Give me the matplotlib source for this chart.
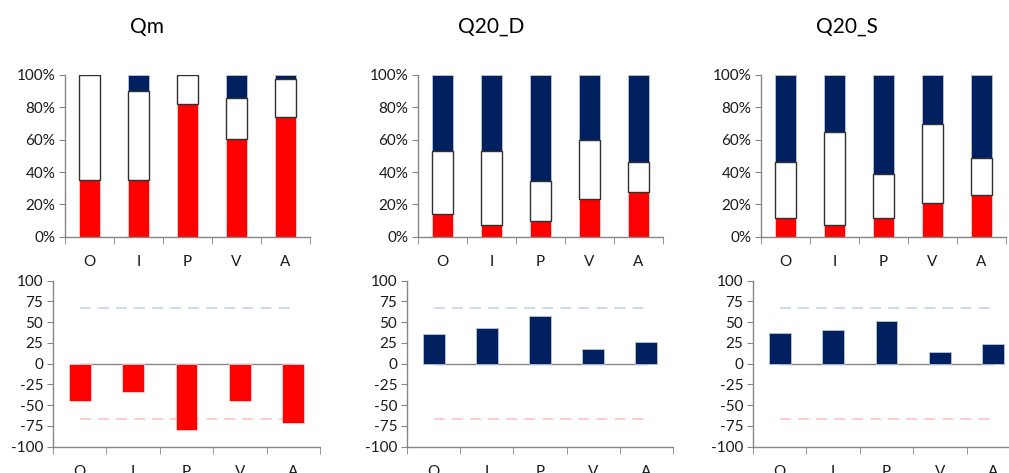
import numpy as np
import matplotlib
matplotlib.use("Agg")
import matplotlib.pyplot as plt
from matplotlib.ticker import PercentFormatter, FixedLocator

plt.rcParams['font.family'] = ['Lato', 'DejaVu Sans']
plt.rcParams['axes.unicode_minus'] = False

categories = ["O", "I", "P", "V", "A"]
titles = ["Qm", "Q20_D", "Q20_S"]

# stacked shares (%): red bottom, white middle, navy top
qm_red = [34.8, 34.8, 81.9, 60.4, 74.2]
qm_white = [65.2, 55.3, 18.1, 25.2, 23.1]
qm_navy = [0.0, 9.9, 0.0, 14.4, 2.7]

d_red = [13.8, 7.2, 9.5, 23.3, 27.8]
d_white = [39.2, 45.8, 25.1, 36.7, 18.4]
d_navy = [47.0, 47.0, 65.4, 40.0, 53.8]

s_red = [11.8, 7.2, 11.8, 21.0, 25.6]
s_white = [34.4, 57.5, 27.2, 48.5, 22.9]
s_navy = [53.8, 35.3, 61.0, 30.5, 51.5]

# bottom index values
qm_index = [-44.4, -34.3, -79.5, -44.4, -71.9]
d_index = [35.5, 43.6, 56.9, 17.7, 26.6]
s_index = [36.7, 40.0, 51.3, 14.5, 23.4]

upper_ref = 66.7
lower_ref = -66.7

RED = "#ff0000"
NAVY = "#002060"
AXIS = "#868686"
TXT = "#1a1a1a"

W, H = 1009, 473
fig = plt.figure(figsize=(W / 100, H / 100), dpi=100)


def px_axes(x0, x1, ytop, ybot):
    return fig.add_axes([x0 / W, 1 - ybot / H, (x1 - x0) / W, (ybot - ytop) / H])


def style_axes(ax):
    for side in ["top", "right"]:
        ax.spines[side].set_visible(False)
    for side in ["left", "bottom"]:
        ax.spines[side].set_color(AXIS)
        ax.spines[side].set_linewidth(1.0)
    ax.set_xlim(-0.5, 4.5)
    ax.set_xticks(range(5))
    ax.set_xticklabels(categories)
    ax.xaxis.set_minor_locator(FixedLocator(np.arange(-0.5, 5, 1)))
    ax.tick_params(axis="x", which="major", length=0, pad=13, labelsize=11, labelcolor=TXT)
    ax.tick_params(axis="x", which="minor", length=5, color=AXIS, direction="out")
    ax.tick_params(axis="y", length=4, color=AXIS, direction="out", labelsize=11, labelcolor=TXT, pad=3)


top_sets = [(qm_red, qm_white, qm_navy), (d_red, d_white, d_navy), (s_red, s_white, s_navy)]
top_x = [(65, 310), (418, 663), (761, 1006)]
bot_sets = [qm_index, d_index, s_index]
bot_x = [(53, 320), (407, 673), (753, 1020)]
title_x = [147, 491, 847]

x = np.arange(len(categories))
bw = 0.41

for i in range(3):
    red, white, navy = [np.array(v) / 100 for v in top_sets[i]]
    ax = px_axes(top_x[i][0], top_x[i][1], 75, 236.7)
    ax.bar(x, red, bw, color=RED, edgecolor="#ffd0d0", linewidth=0.6, zorder=2)
    ax.bar(x, white, bw, bottom=red, color="white", edgecolor="#303030", linewidth=1.0, zorder=3)
    ax.bar(x, navy, bw, bottom=red + white, color=NAVY, edgecolor="#b8c4d8", linewidth=0.6, zorder=2)
    ax.set_ylim(0, 1)
    ax.set_yticks(np.arange(0, 1.01, 0.2))
    ax.yaxis.set_major_formatter(PercentFormatter(1.0, decimals=0))
    style_axes(ax)

    vals = np.array(bot_sets[i])
    bx = px_axes(bot_x[i][0], bot_x[i][1], 280.7, 446.7)
    bx.plot([0, 4], [upper_ref, upper_ref], color="#c6d9f1", lw=1.3, dashes=(6, 4), zorder=1)
    bx.plot([0, 4], [lower_ref, lower_ref], color="#ffc7c7", lw=1.3, dashes=(6, 4), zorder=1)
    bx.plot([0, 4], [0, 0], color=AXIS, lw=1.0, zorder=2)
    color = RED if vals.mean() < 0 else NAVY
    edge = "#ffd0d0" if vals.mean() < 0 else "#b8c4d8"
    bx.bar(x, vals, bw, color=color, edgecolor=edge, linewidth=0.6, zorder=3)
    bx.set_ylim(-100, 100)
    bx.set_yticks(np.arange(-100, 101, 25))
    style_axes(bx)

    fig.text(title_x[i] / W, 1 - 27 / H, titles[i], ha="center", va="center", fontsize=15, color="black")

fig.savefig("out.png", dpi=100)
